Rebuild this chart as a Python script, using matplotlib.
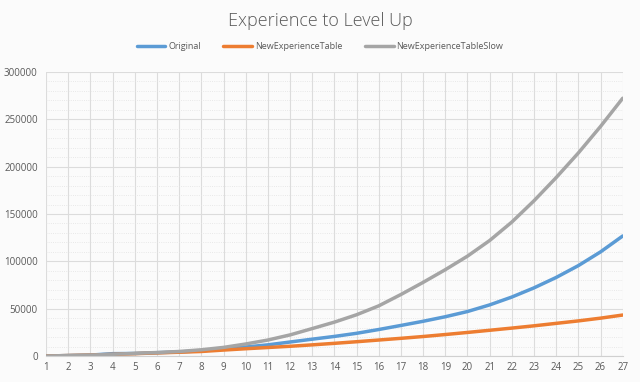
import numpy as np
import matplotlib.pyplot as plt
from matplotlib.ticker import MultipleLocator

# levels 1..27
levels = list(range(1, 28))

original = [0, 500, 1000, 2500, 2700, 3500, 4300, 5500, 7400, 9500,
            11800, 14800, 17800, 20700, 24000, 28000, 32300, 36700, 41500, 47000,
            54000, 62300, 72000, 83000, 95500, 110000, 126800]
new_table = [0, 500, 1000, 1700, 2500, 3300, 4000, 4800, 6300, 7700,
             9000, 10300, 11800, 13400, 15100, 16900, 18700, 20600, 22700, 24900,
             27200, 29500, 31900, 34500, 37100, 40000, 43300]
new_table_slow = [0, 500, 1000, 1800, 2800, 3700, 4800, 6600, 9100, 12700,
                  16900, 22300, 29000, 35800, 43600, 53000, 65000, 77800, 91200, 105500,
                  122000, 141500, 164000, 188500, 214500, 242500, 272300]

plt.rcParams['font.family'] = ['Open Sans', 'DejaVu Sans']

fig = plt.figure(figsize=(6.4, 3.82), dpi=100, facecolor='#fbfbfb')
ax = fig.add_axes([0.072, 0.068, 0.901, 0.7435])
ax.set_facecolor('#fbfbfb')

ax.plot(levels, original, color='#5B9BD5', lw=2.5, label='Original', solid_capstyle='round')
ax.plot(levels, new_table, color='#ED7D31', lw=2.5, label='NewExperienceTable', solid_capstyle='round')
ax.plot(levels, new_table_slow, color='#A5A5A5', lw=2.5, label='NewExperienceTableSlow', solid_capstyle='round')

ax.set_xlim(1, 27)
ax.set_ylim(0, 300000)
ax.set_xticks(levels)
ax.yaxis.set_major_locator(MultipleLocator(50000))
ax.yaxis.set_minor_locator(MultipleLocator(10000))

ax.grid(which='major', axis='both', color='#dcdcdc', lw=0.8)
ax.grid(which='minor', axis='y', color='#e2e2e2', lw=0.6, ls=':')
ax.set_axisbelow(True)

for s in ax.spines.values():
    s.set_visible(False)
ax.spines['bottom'].set_visible(True)
ax.spines['bottom'].set_color('#d0d0d0')

ax.tick_params(axis='both', which='both', length=0, labelsize=7, colors='#595959', pad=4)
ax.tick_params(axis='y', pad=6)

fig.text(0.5, 0.945, 'Experience to Level Up', ha='center', va='center',
         fontsize=13, color='#595959', fontweight='light')

fig.legend(loc='center', bbox_to_anchor=(0.5, 0.878), ncol=3, frameon=False,
           fontsize=6.5, handlelength=3.2, columnspacing=2.5, handletextpad=0.3,
           labelcolor='#595959')

fig.savefig('out.png', dpi=100, facecolor=fig.get_facecolor())
